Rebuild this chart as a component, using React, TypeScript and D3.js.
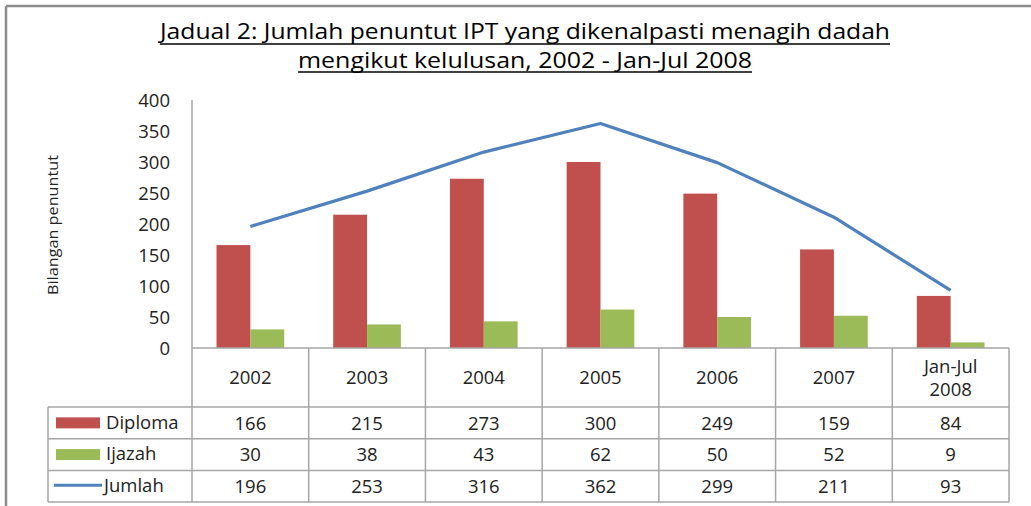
import React from "react";
import * as d3 from "d3";

const categories = ["2002", "2003", "2004", "2005", "2006", "2007", "Jan-Jul\n2008"];
const diploma = [166, 215, 273, 300, 249, 159, 84];
const ijazah = [30, 38, 43, 62, 50, 52, 9];
const jumlah = [196, 253, 316, 362, 299, 211, 93];
const yTicks = [0, 50, 100, 150, 200, 250, 300, 350, 400];
const titleLines = [
  "Jadual 2: Jumlah penuntut IPT yang dikenalpasti menagih dadah",
  "mengikut kelulusan, 2002 - Jan-Jul 2008",
];
const yTitle = "Bilangan penuntut";

const RED = "#C0504D";
const GREEN = "#9BBB59";
const BLUE = "#4F81BD";
const GRID = "#A6A6A6";
const FONT = "'Liberation Sans Narrow', 'Open Sans', Arial, sans-serif";
const NUMFONT = "'Open Sans', sans-serif";

export default function App() {
  const left = 192, right = 1009, top = 100, zeroY = 348;
  const x = d3.scaleBand<string>().domain(categories).range([left, right]).padding(0);
  const y = d3.scaleLinear().domain([0, 400]).range([zeroY, top]);
  const bw = x.bandwidth() * 0.29;
  const cx = (c: string) => (x(c) as number) + x.bandwidth() / 2;
  const line = d3.line<number>().x((_, i) => cx(categories[i])).y((d) => y(d));

  const headerBottom = 407;
  const rowH = 31.7;
  const legendLeft = 48;
  const rows = [
    { name: "Diploma", vals: diploma, kind: "bar", color: RED },
    { name: "Ijazah", vals: ijazah, kind: "bar", color: GREEN },
    { name: "Jumlah", vals: jumlah, kind: "line", color: BLUE },
  ];
  const tableBottom = headerBottom + rowH * rows.length;
  const fs = 18.5;

  return (
    <svg width={1031} height={506} style={{ position: "absolute", left: 0, top: 0, background: "#fff" }} fontFamily={FONT}>
      {/* frame */}
      <line x1={6} y1={6} x2={1031} y2={6} stroke="#8a8a8a" strokeWidth={2.5} />
      <line x1={6} y1={6} x2={6} y2={506} stroke="#8a8a8a" strokeWidth={2.5} />

      {/* title */}
      <text x={525} y={39} fontSize={22} textAnchor="middle" fill="#000" textLength={730} lengthAdjust="spacingAndGlyphs">{titleLines[0]}</text>
      <line x1={160} x2={890} y1={44} y2={44} stroke="#000" strokeWidth={1.5} />
      <text x={525} y={68} fontSize={22} textAnchor="middle" fill="#000" textLength={454} lengthAdjust="spacingAndGlyphs">{titleLines[1]}</text>
      <line x1={298} x2={752} y1={72} y2={72} stroke="#000" strokeWidth={1.5} />

      {/* y axis ticks */}
      {yTicks.map((t) => (
        <text key={t} x={170} y={y(t)} dy="0.36em" fontSize={fs} textAnchor="end" fill="#222" fontFamily={NUMFONT}>{t}</text>
      ))}
      <text transform={`translate(58,225) rotate(-90)`} fontSize={15} textAnchor="middle" fill="#222" textLength={140} lengthAdjust="spacingAndGlyphs">{yTitle}</text>

      {/* bars */}
      {categories.map((c, i) => (
        <g key={c}>
          <rect x={cx(c) - bw} y={y(diploma[i])} width={bw} height={zeroY - y(diploma[i])} fill={RED} />
          <rect x={cx(c)} y={y(ijazah[i])} width={bw} height={zeroY - y(ijazah[i])} fill={GREEN} />
        </g>
      ))}

      {/* line */}
      <path d={line(jumlah) as string} fill="none" stroke={BLUE} strokeWidth={3.2} strokeLinejoin="round" />

      {/* axes & table grid */}
      <line x1={left} x2={left} y1={top} y2={tableBottom} stroke={GRID} strokeWidth={1.5} />
      <line x1={left} x2={right} y1={zeroY} y2={zeroY} stroke={GRID} strokeWidth={1.5} />
      {categories.map((c) => (
        <line key={c} x1={(x(c) as number) + x.bandwidth()} x2={(x(c) as number) + x.bandwidth()} y1={zeroY} y2={tableBottom} stroke={GRID} strokeWidth={1.5} />
      ))}
      {[0, 1, 2, 3].map((k) => (
        <line key={k} x1={legendLeft} x2={right} y1={headerBottom + k * rowH} y2={headerBottom + k * rowH} stroke={GRID} strokeWidth={1.5} />
      ))}
      <line x1={legendLeft} x2={legendLeft} y1={headerBottom} y2={tableBottom} stroke={GRID} strokeWidth={1.5} />

      {/* header labels */}
      {categories.map((c) => {
        const parts = c.split("\n");
        const midY = (zeroY + headerBottom) / 2;
        return (
          <text key={c} x={cx(c)} fontSize={fs} textAnchor="middle" fill="#222" fontFamily={NUMFONT}>
            {parts.map((p, j) => (
              <tspan key={j} x={cx(c)} y={midY + (j - (parts.length - 1) / 2) * 23} dy="0.36em">{p}</tspan>
            ))}
          </text>
        );
      })}

      {/* table rows */}
      {rows.map((r, k) => {
        const ry = headerBottom + k * rowH + rowH / 2;
        return (
          <g key={r.name}>
            {r.kind === "bar" ? (
              <rect x={56} y={ry - 5.5} width={44} height={11} fill={r.color} />
            ) : (
              <line x1={54} x2={102} y1={ry - 1} y2={ry - 1} stroke={r.color} strokeWidth={3} />
            )}
            <text x={r.kind === "bar" ? 106 : 104} y={ry - 1} dy="0.36em" fontSize={fs} fill="#222" fontFamily={NUMFONT}>{r.name}</text>
            {r.vals.map((v, i) => (
              <text key={i} x={cx(categories[i])} y={ry} dy="0.36em" fontSize={fs} textAnchor="middle" fill="#222" fontFamily={NUMFONT}>{v}</text>
            ))}
          </g>
        );
      })}
    </svg>
  );
}
